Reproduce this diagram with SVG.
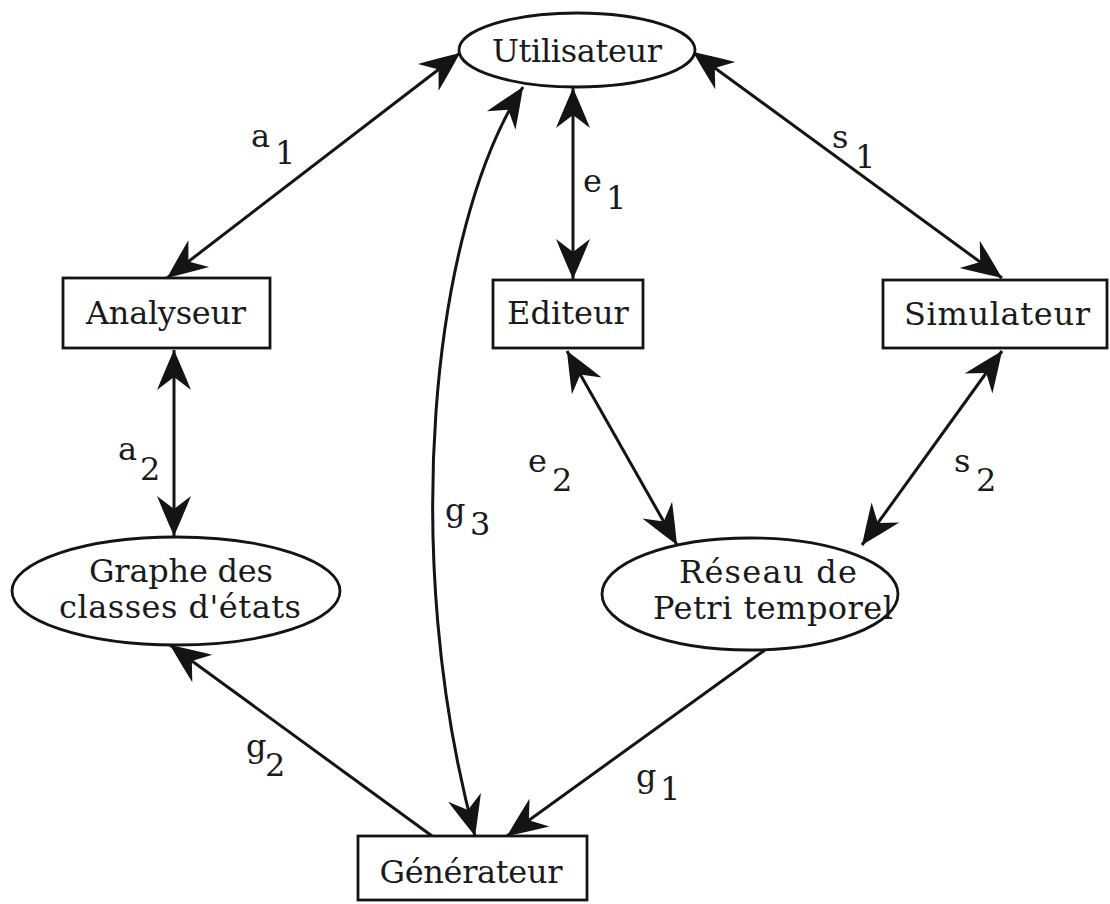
<svg xmlns="http://www.w3.org/2000/svg" width="1110" height="904" viewBox="0 0 1110 904">
  <style>
    .shape { fill: #ffffff; stroke: #141414; stroke-width: 2.8; }
    .label { font-family: "DejaVu Serif", "Liberation Serif", serif; font-size: 32px; fill: #1a1a1a; text-anchor: middle; }
    .sym { font-family: "DejaVu Serif", "Liberation Serif", serif; font-size: 32px; fill: #1a1a1a; }
    .link { fill: none; stroke: #141414; stroke-width: 3; }
  </style>
  <defs>
    <marker id="head" markerUnits="userSpaceOnUse" markerWidth="48" markerHeight="36" refX="42" refY="17" orient="auto-start-reverse" overflow="visible">
      <path d="M42,17 Q24,9 2,0 L15,17 L2,34 Q24,25 42,17 Z" fill="#141414"/>
    </marker>
  </defs>
  <rect width="1110" height="904" fill="#ffffff"/>

  <!-- connectors -->
  <g id="connectors">
    <path id="a1" class="link" d="M460,53 L167,278" marker-start="url(#head)" marker-end="url(#head)"/>
    <path id="a2" class="link" d="M174,350 L174,536" marker-start="url(#head)" marker-end="url(#head)"/>
    <path id="e1" class="link" d="M573,88 L573,279" marker-start="url(#head)" marker-end="url(#head)"/>
    <path id="s1" class="link" d="M693,52 L1002,278" marker-start="url(#head)" marker-end="url(#head)"/>
    <path id="e2" class="link" d="M567,351 L677,545" marker-start="url(#head)" marker-end="url(#head)"/>
    <path id="s2" class="link" d="M1002,351 L862,545" marker-start="url(#head)" marker-end="url(#head)"/>
    <path id="g3" class="link" d="M523,87 C430,230 400,560 475,836" marker-start="url(#head)" marker-end="url(#head)"/>
    <path id="g1" class="link" d="M765,650 L507,836" marker-end="url(#head)"/>
    <path id="g2" class="link" d="M432,836 L170,645" marker-end="url(#head)"/>
  </g>

  <!-- connector labels -->
  <g id="connector-labels">
    <text class="sym" x="251" y="147">a</text><text class="sym" x="275" y="164">1</text>
    <text class="sym" x="118" y="460">a</text><text class="sym" x="140" y="480">2</text>
    <text class="sym" x="583" y="192">e</text><text class="sym" x="606" y="209">1</text>
    <text class="sym" x="832" y="148">s</text><text class="sym" x="855" y="168">1</text>
    <text class="sym" x="528" y="472">e</text><text class="sym" x="552" y="491">2</text>
    <text class="sym" x="954" y="472">s</text><text class="sym" x="976" y="491">2</text>
    <text class="sym" x="445" y="521">g</text><text class="sym" x="470" y="535">3</text>
    <text class="sym" x="636" y="787">g</text><text class="sym" x="660" y="800">1</text>
    <text class="sym" x="246" y="757">g</text><text class="sym" x="265" y="776">2</text>
  </g>

  <g id="utilisateur">
    <ellipse class="shape" cx="577" cy="50" rx="118" ry="37"/>
    <text class="label" x="577" y="62" textLength="170" lengthAdjust="spacing">Utilisateur</text>
  </g>

  <g id="analyseur">
    <rect class="shape" x="63" y="278" width="207" height="70"/>
    <text class="label" x="166" y="324" textLength="160" lengthAdjust="spacing">Analyseur</text>
  </g>

  <g id="editeur">
    <rect class="shape" x="493" y="280" width="150" height="68"/>
    <text class="label" x="568" y="324">Editeur</text>
  </g>

  <g id="simulateur">
    <rect class="shape" x="883" y="280" width="224" height="68"/>
    <text class="label" x="997" y="325" textLength="186" lengthAdjust="spacing">Simulateur</text>
  </g>

  <g id="graphe">
    <ellipse class="shape" cx="176" cy="591" rx="164" ry="54"/>
    <text class="label" x="181" y="582" textLength="184" lengthAdjust="spacing">Graphe des</text>
    <text class="label" x="180" y="618" textLength="242" lengthAdjust="spacing">classes d'états</text>
  </g>

  <g id="reseau">
    <ellipse class="shape" cx="750" cy="594" rx="148" ry="56"/>
    <text class="label" x="768" y="583" textLength="178" lengthAdjust="spacing">Réseau de</text>
    <text class="label" x="773" y="619" textLength="240" lengthAdjust="spacing">Petri temporel</text>
  </g>

  <g id="generateur">
    <rect class="shape" x="358" y="836" width="229" height="64"/>
    <text class="label" x="471" y="883" textLength="183" lengthAdjust="spacing">Générateur</text>
  </g>
</svg>
